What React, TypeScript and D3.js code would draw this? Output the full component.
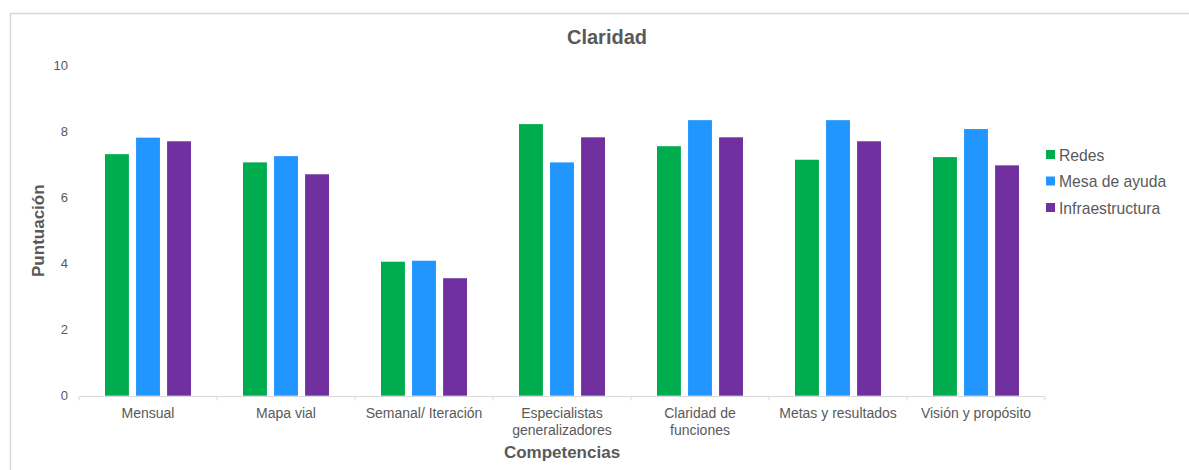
import { useEffect, useRef } from 'react';
import * as d3 from 'd3';

const categories = [
  ['Mensual'],
  ['Mapa vial'],
  ['Semanal/ Iteración'],
  ['Especialistas', 'generalizadores'],
  ['Claridad de', 'funciones'],
  ['Metas y resultados'],
  ['Visión y propósito'],
];
const seriesNames = ['Redes', 'Mesa de ayuda', 'Infraestructura'];
const redes = [7.32, 7.07, 4.06, 8.23, 7.56, 7.15, 7.23];
const mesa = [7.82, 7.26, 4.09, 7.07, 8.35, 8.35, 8.08];
const infra = [7.71, 6.71, 3.56, 7.83, 7.83, 7.71, 6.98];
const yTicks = [0, 2, 4, 6, 8, 10];

const colors = ['#00ad4e', '#2196ff', '#7030a0'];
const textColor = '#595959';
const font = '"Liberation Sans", Arial, sans-serif';

export default function App() {
  const ref = useRef<SVGSVGElement>(null);

  useEffect(() => {
    if (!ref.current) return;
    const width = 1189;
    const height = 470;
    const svg = d3.select(ref.current);
    svg.selectAll('*').remove();

    // crop frame (top and left edges only)
    svg.append('path')
      .attr('d', `M10.5,${height} V13.5 H${width}`)
      .attr('fill', 'none')
      .attr('stroke', '#d9d9d9')
      .attr('stroke-width', 1.5);

    const x0 = d3.scaleBand<number>()
      .domain(d3.range(categories.length))
      .range([79, 1045])
      .paddingInner(0)
      .paddingOuter(0);
    const y = d3.scaleLinear().domain([0, 10]).range([395.7, 65.7]);

    const series = [redes, mesa, infra];
    const groupWidth = 86;
    const x1 = d3.scaleBand<number>()
      .domain([0, 1, 2])
      .range([0, groupWidth])
      .paddingInner(0.23)
      .paddingOuter(0);

    const g = svg.append('g');
    categories.forEach((_, ci) => {
      const gx = (x0(ci) as number) + (x0.bandwidth() - groupWidth) / 2;
      series.forEach((vals, si) => {
        g.append('rect')
          .attr('x', gx + (x1(si) as number))
          .attr('y', y(vals[ci]))
          .attr('width', x1.bandwidth())
          .attr('height', y(0) - y(vals[ci]))
          .attr('fill', colors[si]);
      });
    });

    // x axis line and category ticks
    const y0 = Math.round(y(0)) + 0.5;
    g.append('line')
      .attr('x1', 79).attr('x2', 1045)
      .attr('y1', y0).attr('y2', y0)
      .attr('stroke', '#d9d9d9');
    d3.range(categories.length + 1).forEach((i) => {
      const tx = i < categories.length ? (x0(i) as number) : 1045;
      g.append('line')
        .attr('x1', tx).attr('x2', tx)
        .attr('y1', y0).attr('y2', y0 + 4)
        .attr('stroke', '#d9d9d9');
    });

    categories.forEach((lines, ci) => {
      const cx = (x0(ci) as number) + x0.bandwidth() / 2;
      const t = g.append('text')
        .attr('x', cx)
        .attr('y', 418)
        .attr('text-anchor', 'middle')
        .attr('fill', textColor)
        .attr('font-size', 14)
        .attr('font-family', font);
      lines.forEach((l, li) => {
        t.append('tspan').attr('x', cx).attr('dy', li === 0 ? 0 : 17).text(l);
      });
    });

    yTicks.forEach((v) => {
      g.append('text')
        .attr('x', 68)
        .attr('y', y(v) + 4.5)
        .attr('text-anchor', 'end')
        .attr('fill', textColor)
        .attr('font-size', 13)
        .attr('font-family', font)
        .text(v);
    });

    svg.append('text')
      .attr('x', 607)
      .attr('y', 44)
      .attr('text-anchor', 'middle')
      .attr('fill', textColor)
      .attr('font-size', 20)
      .attr('font-weight', 'bold')
      .attr('font-family', font)
      .text('Claridad');

    svg.append('text')
      .attr('transform', `translate(44,${y(5)}) rotate(-90)`)
      .attr('text-anchor', 'middle')
      .attr('fill', textColor)
      .attr('font-size', 17)
      .attr('font-weight', 'bold')
      .attr('font-family', font)
      .text('Puntuación');

    svg.append('text')
      .attr('x', 562)
      .attr('y', 458)
      .attr('text-anchor', 'middle')
      .attr('fill', textColor)
      .attr('font-size', 17)
      .attr('font-weight', 'bold')
      .attr('font-family', font)
      .text('Competencias');

    seriesNames.forEach((name, i) => {
      const ly = 155 + i * 26.5;
      svg.append('rect')
        .attr('x', 1046)
        .attr('y', ly - 5)
        .attr('width', 9)
        .attr('height', 9)
        .attr('fill', colors[i]);
      svg.append('text')
        .attr('x', 1059)
        .attr('y', ly + 5.5)
        .attr('fill', textColor)
        .attr('font-size', 15.7)
        .attr('font-family', font)
        .text(name);
    });
  }, []);

  return (
    <svg
      ref={ref}
      width={1189}
      height={470}
      viewBox="0 0 1189 470"
      style={{ position: 'absolute', left: 0, top: 0, background: '#fff' }}
    />
  );
}
